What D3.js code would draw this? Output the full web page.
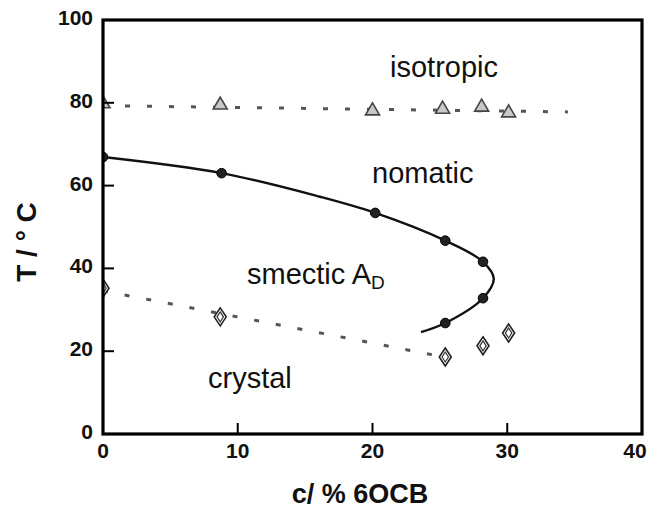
<!DOCTYPE html>
<html><head><meta charset="utf-8">
<script src="https://cdn.jsdelivr.net/npm/d3@7"></script>
<style>html,body{margin:0;padding:0;background:#fff;}svg{display:block;}</style>
</head><body>
<script>
// ---- data ----
const xTicks = [0, 10, 20, 30, 40];
const yTicks = [0, 20, 40, 60, 80, 100];
// isotropic transition (open triangles)
const isoPoints = [[0, 80.0], [8.7, 79.7], [20.0, 78.3], [25.2, 78.7], [28.1, 79.2], [30.1, 77.8]];
const isoLine = [[0, 79.3], [34.5, 77.8]];
// nematic / smectic boundary (filled circles + solid curve)
const nsPoints = [[0, 66.9], [8.8, 63.0], [20.2, 53.4], [25.4, 46.7], [28.2, 41.6], [28.2, 32.8], [25.4, 26.8]];
const nsCurve = [[0, 66.9], [8.8, 63.0], [16.1, 57.3], [20.2, 53.4], [25.4, 46.7], [28.2, 41.6], [29.0, 37.5], [28.2, 32.8], [25.4, 26.8], [23.6, 24.6]];
// crystallisation (open diamonds)
const crPoints = [[0, 35.2], [8.7, 28.3], [25.4, 18.6], [28.2, 21.3], [30.1, 24.4]];
const crLine = [[0, 34.6], [25.0, 18.8]];
// region labels
const regionLabels = [
  {text: "isotropic", x: 390, y: 77},
  {text: "nomatic", x: 372, y: 183},
  {text: "crystal", x: 208, y: 388}
];

const W = 648, H = 515;
const m = {left: 103, top: 20, right: 6, bottom: 81};
const iw = W - m.left - m.right, ih = H - m.top - m.bottom;

const svg = d3.select("body").append("svg").attr("width", W).attr("height", H);
const g = svg.append("g").attr("transform", `translate(${m.left},${m.top})`);

const x = d3.scaleLinear().domain([0, 40]).range([0, iw]);
const y = d3.scaleLinear().domain([0, 100]).range([ih, 0]);

svg.append("defs").append("clipPath").attr("id", "clip")
  .append("rect").attr("x", 0).attr("y", 0).attr("width", iw).attr("height", ih);

const plot = g.append("g").attr("clip-path", "url(#clip)");
const line = d3.line().x(d => x(d[0])).y(d => y(d[1]));

// dashed lines
plot.append("path").datum(isoLine).attr("d", line)
  .attr("fill", "none").attr("stroke", "#555").attr("stroke-width", 3).attr("stroke-dasharray", "5,17");
plot.append("path").datum(crLine).attr("d", line)
  .attr("fill", "none").attr("stroke", "#555").attr("stroke-width", 3).attr("stroke-dasharray", "5,17");

// solid curve
plot.append("path").datum(nsCurve).attr("d", line.curve(d3.curveCatmullRom.alpha(0.5)))
  .attr("fill", "none").attr("stroke", "#111").attr("stroke-width", 2.4);

// triangles
plot.selectAll(".tri").data(isoPoints).join("path")
  .attr("transform", d => `translate(${x(d[0])},${y(d[1])})`)
  .attr("d", "M0,-7 L7,5 L-7,5 Z")
  .attr("fill", "#c8c8c8").attr("stroke", "#444").attr("stroke-width", 1.6);

// circles
plot.selectAll(".dot").data(nsPoints).join("circle")
  .attr("cx", d => x(d[0])).attr("cy", d => y(d[1])).attr("r", 4.8)
  .attr("fill", "#222").attr("stroke", "#000").attr("stroke-width", 1);

// diamonds (double outline)
const dia = plot.selectAll(".dia").data(crPoints).join("g")
  .attr("transform", d => `translate(${x(d[0])},${y(d[1])})`);
dia.append("path").attr("d", "M0,-9 L6,0 L0,9 L-6,0 Z")
  .attr("fill", "#fff").attr("stroke", "#222").attr("stroke-width", 1.6);
dia.append("path").attr("d", "M0,-5 L3.2,0 L0,5 L-3.2,0 Z")
  .attr("fill", "none").attr("stroke", "#333").attr("stroke-width", 1.2);

// frame
g.append("rect").attr("x", 0).attr("y", 0).attr("width", iw).attr("height", ih)
  .attr("fill", "none").attr("stroke", "#000").attr("stroke-width", 3.2);

// inward ticks
g.selectAll(".yt").data(yTicks.filter(v => v > 0 && v < 100)).join("line")
  .attr("x1", 0).attr("x2", 11).attr("y1", d => y(d)).attr("y2", d => y(d))
  .attr("stroke", "#000").attr("stroke-width", 2);
g.selectAll(".xt").data(xTicks.filter(v => v > 0 && v < 40)).join("line")
  .attr("x1", d => x(d)).attr("x2", d => x(d)).attr("y1", ih).attr("y2", ih - 11)
  .attr("stroke", "#000").attr("stroke-width", 2);

// tick labels
const tickFont = "'Liberation Sans', Arial, sans-serif";
g.selectAll(".yl").data(yTicks).join("text")
  .attr("x", -10).attr("y", d => y(d) + 5)
  .attr("text-anchor", "end")
  .attr("font-family", tickFont).attr("font-weight", "bold").attr("font-size", 21)
  .attr("fill", "#111").text(d => d);
g.selectAll(".xl").data(xTicks).join("text")
  .attr("x", d => x(d) + (d === 40 ? -7 : 0)).attr("y", ih + 24)
  .attr("text-anchor", "middle")
  .attr("font-family", tickFont).attr("font-weight", "bold").attr("font-size", 21)
  .attr("fill", "#111").text(d => d);

// axis titles
svg.append("text").attr("x", 360).attr("y", 503).attr("text-anchor", "middle")
  .attr("font-family", tickFont).attr("font-weight", "bold").attr("font-size", 27)
  .attr("fill", "#111").text("c/ % 6OCB");
svg.append("text").attr("transform", "translate(36,242) rotate(-90)")
  .attr("text-anchor", "middle")
  .attr("font-family", tickFont).attr("font-weight", "bold").attr("font-size", 28)
  .attr("fill", "#111").text("T / ° C");

// region labels
const labFont = "'Liberation Sans', Arial, Helvetica, sans-serif";
svg.selectAll(".rl").data(regionLabels).join("text")
  .attr("x", d => d.x).attr("y", d => d.y)
  .attr("font-family", labFont).attr("font-size", 29).attr("fill", "#111")
  .text(d => d.text);
const sm = svg.append("text").attr("x", 247).attr("y", 284)
  .attr("font-family", labFont).attr("font-size", 29).attr("fill", "#111");
sm.append("tspan").text("smectic A");
sm.append("tspan").attr("dy", 5).attr("font-size", 19).text("D");
</script>
</body></html>
